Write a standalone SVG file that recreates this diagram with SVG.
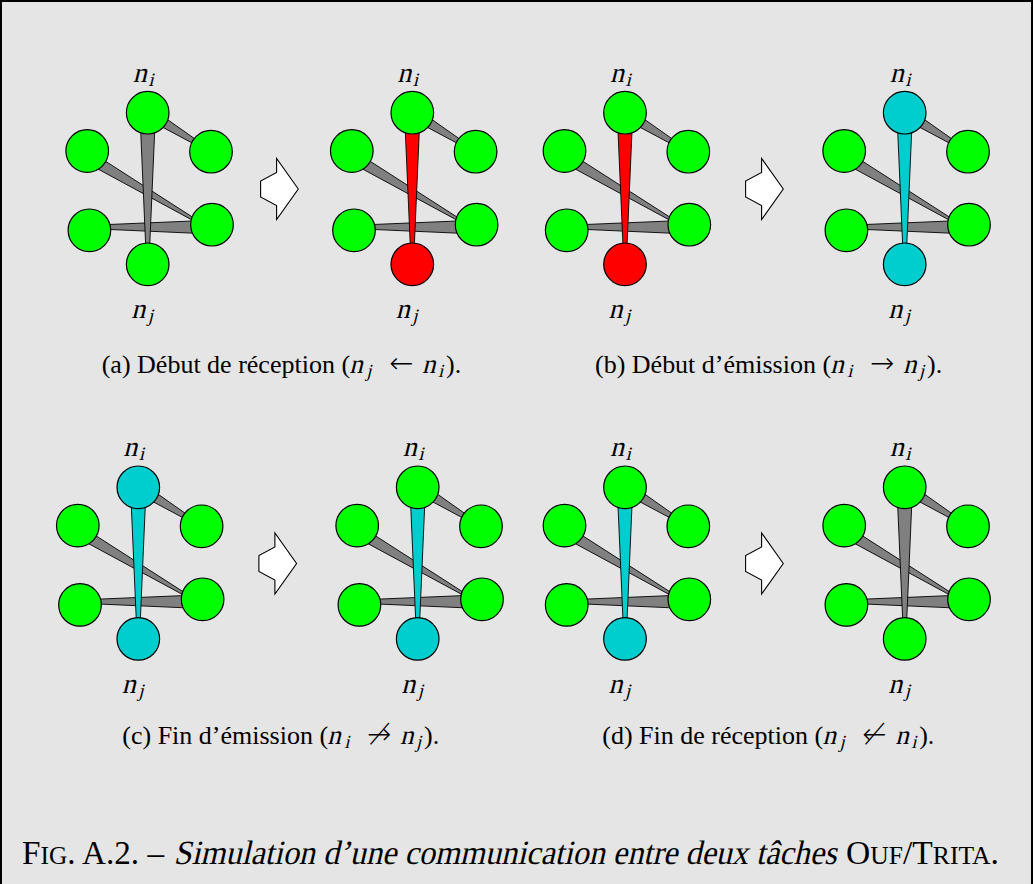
<svg xmlns="http://www.w3.org/2000/svg" width="1033" height="884" viewBox="0 0 1033 884">
<style>
.bg{fill:#e5e5e5;stroke:#000;stroke-width:2}
.n{stroke:#000;stroke-width:1.2}
.g{fill:#00ff00}.r{fill:#ff0000}.c{fill:#00cece}
.e{stroke:#000;stroke-width:0.9;stroke-linejoin:round}
.eg{fill:#808080}.er{fill:#ff0000}.ec{fill:#00cece}
.lab{font-family:"Liberation Serif",serif;font-size:28px;fill:#000}
.ls{font-family:"Liberation Serif",serif;font-size:19px;fill:#000}
.cap{font-family:"Liberation Serif",serif;font-size:26px;fill:#000}
.mi{font-family:"Liberation Serif",serif;font-size:27px;fill:#000}
.ms{font-family:"Liberation Serif",serif;font-size:18.5px;fill:#000}
.ar{font-family:"DejaVu Sans",sans-serif;font-size:29px;font-weight:200;fill:#000}
.big{font-family:"Liberation Serif",serif;font-size:34px;fill:#000}
.sc{font-size:26px}
.arr{fill:#fff;stroke:#000;stroke-width:1.1;stroke-linejoin:miter}
</style>
<defs>
<polygon id="e1" points="-3.04,4.94 62.67,40.02 63.93,37.98 3.04,-4.94"/>
<polygon id="e2" points="-63.5,48.88 64.05,117.93 64.55,117.07 -57.5,38.72"/>
<polygon id="e3" points="-58.3,112.6 64.3,107.5 64.3,121.3 -58.3,115.9"/>
<polygon id="e4" points="-7.8,0 -1.2,151.6 1.2,151.6 7.8,0"/>
<polygon id="arrow" points="0,0 -21.7,-30.5 -21.7,-16.5 -37.7,-8 -37.7,8 -21.7,16.5 -21.7,30.5"/>
</defs>
<rect class="bg" x="1" y="1" width="1031" height="900"/>

<!-- Panel a-left -->
<g id="panel-a1" transform="translate(147.7,112.7)">
<g id="a1-edges" class="e"><use href="#e1" class="eg"/><use href="#e2" class="eg"/><use href="#e3" class="eg"/><use href="#e4" class="eg"/></g>
<g id="a1-ni"><circle class="n g" cx="0" cy="0" r="21.3"/><text class="lab" transform="translate(-15,-31) skewX(-14)">n</text><text class="ls" transform="translate(0.5,-27) skewX(-14)">i</text></g>
<g id="a1-lu"><circle class="n g" cx="-60.5" cy="38.3" r="21.3"/></g>
<g id="a1-tr"><circle class="n g" cx="63.3" cy="39" r="21.3"/></g>
<g id="a1-ll"><circle class="n g" cx="-58.3" cy="117.6" r="21.3"/></g>
<g id="a1-rl"><circle class="n g" cx="64.3" cy="112" r="21.3"/></g>
<g id="a1-nj"><circle class="n g" cx="0" cy="151.6" r="21.3"/><text class="lab" transform="translate(-16.5,205.6) skewX(-14)">n</text><text class="ls" transform="translate(0,209.6) skewX(-14)">j</text></g>
</g>
<use id="arrow-a" href="#arrow" class="arr" x="298.3" y="189"/>

<!-- Panel a-right -->
<g id="panel-a2" transform="translate(412.3,112.7)">
<g id="a2-edges" class="e"><use href="#e1" class="eg"/><use href="#e2" class="eg"/><use href="#e3" class="eg"/><use href="#e4" class="er"/></g>
<g id="a2-ni"><circle class="n g" cx="0" cy="0" r="21.3"/><text class="lab" transform="translate(-15,-31) skewX(-14)">n</text><text class="ls" transform="translate(0.5,-27) skewX(-14)">i</text></g>
<g id="a2-lu"><circle class="n g" cx="-60.5" cy="38.3" r="21.3"/></g>
<g id="a2-tr"><circle class="n g" cx="63.3" cy="39" r="21.3"/></g>
<g id="a2-ll"><circle class="n g" cx="-58.3" cy="117.6" r="21.3"/></g>
<g id="a2-rl"><circle class="n g" cx="64.3" cy="112" r="21.3"/></g>
<g id="a2-nj"><circle class="n r" cx="0" cy="151.6" r="21.3"/><text class="lab" transform="translate(-16.5,205.6) skewX(-14)">n</text><text class="ls" transform="translate(0,209.6) skewX(-14)">j</text></g>
</g>

<!-- Panel b-left -->
<g id="panel-b1" transform="translate(625,112.7)">
<g id="b1-edges" class="e"><use href="#e1" class="eg"/><use href="#e2" class="eg"/><use href="#e3" class="eg"/><use href="#e4" class="er"/></g>
<g id="b1-ni"><circle class="n g" cx="0" cy="0" r="21.3"/><text class="lab" transform="translate(-15,-31) skewX(-14)">n</text><text class="ls" transform="translate(0.5,-27) skewX(-14)">i</text></g>
<g id="b1-lu"><circle class="n g" cx="-60.5" cy="38.3" r="21.3"/></g>
<g id="b1-tr"><circle class="n g" cx="63.3" cy="39" r="21.3"/></g>
<g id="b1-ll"><circle class="n g" cx="-58.3" cy="117.6" r="21.3"/></g>
<g id="b1-rl"><circle class="n g" cx="64.3" cy="112" r="21.3"/></g>
<g id="b1-nj"><circle class="n r" cx="0" cy="151.6" r="21.3"/><text class="lab" transform="translate(-16.5,205.6) skewX(-14)">n</text><text class="ls" transform="translate(0,209.6) skewX(-14)">j</text></g>
</g>
<use id="arrow-b" href="#arrow" class="arr" x="783.3" y="189"/>

<!-- Panel b-right -->
<g id="panel-b2" transform="translate(904.7,112.7)">
<g id="b2-edges" class="e"><use href="#e1" class="eg"/><use href="#e2" class="eg"/><use href="#e3" class="eg"/><use href="#e4" class="ec"/></g>
<g id="b2-ni"><circle class="n c" cx="0" cy="0" r="21.3"/><text class="lab" transform="translate(-15,-31) skewX(-14)">n</text><text class="ls" transform="translate(0.5,-27) skewX(-14)">i</text></g>
<g id="b2-lu"><circle class="n g" cx="-60.5" cy="38.3" r="21.3"/></g>
<g id="b2-tr"><circle class="n g" cx="63.3" cy="39" r="21.3"/></g>
<g id="b2-ll"><circle class="n g" cx="-58.3" cy="117.6" r="21.3"/></g>
<g id="b2-rl"><circle class="n g" cx="64.3" cy="112" r="21.3"/></g>
<g id="b2-nj"><circle class="n c" cx="0" cy="151.6" r="21.3"/><text class="lab" transform="translate(-16.5,205.6) skewX(-14)">n</text><text class="ls" transform="translate(0,209.6) skewX(-14)">j</text></g>
</g>

<!-- Panel c-left -->
<g id="panel-c1" transform="translate(138.3,487.3)">
<g id="c1-edges" class="e"><use href="#e1" class="eg"/><use href="#e2" class="eg"/><use href="#e3" class="eg"/><use href="#e4" class="ec"/></g>
<g id="c1-ni"><circle class="n c" cx="0" cy="0" r="21.3"/><text class="lab" transform="translate(-15,-31) skewX(-14)">n</text><text class="ls" transform="translate(0.5,-27) skewX(-14)">i</text></g>
<g id="c1-lu"><circle class="n g" cx="-60.5" cy="38.3" r="21.3"/></g>
<g id="c1-tr"><circle class="n g" cx="63.3" cy="39" r="21.3"/></g>
<g id="c1-ll"><circle class="n g" cx="-58.3" cy="117.6" r="21.3"/></g>
<g id="c1-rl"><circle class="n g" cx="64.3" cy="112" r="21.3"/></g>
<g id="c1-nj"><circle class="n c" cx="0" cy="151.6" r="21.3"/><text class="lab" transform="translate(-16.5,205.6) skewX(-14)">n</text><text class="ls" transform="translate(0,209.6) skewX(-14)">j</text></g>
</g>
<use id="arrow-c" href="#arrow" class="arr" x="296.6" y="563.5"/>

<!-- Panel c-right -->
<g id="panel-c2" transform="translate(417.7,487.3)">
<g id="c2-edges" class="e"><use href="#e1" class="eg"/><use href="#e2" class="eg"/><use href="#e3" class="eg"/><use href="#e4" class="ec"/></g>
<g id="c2-ni"><circle class="n g" cx="0" cy="0" r="21.3"/><text class="lab" transform="translate(-15,-31) skewX(-14)">n</text><text class="ls" transform="translate(0.5,-27) skewX(-14)">i</text></g>
<g id="c2-lu"><circle class="n g" cx="-60.5" cy="38.3" r="21.3"/></g>
<g id="c2-tr"><circle class="n g" cx="63.3" cy="39" r="21.3"/></g>
<g id="c2-ll"><circle class="n g" cx="-58.3" cy="117.6" r="21.3"/></g>
<g id="c2-rl"><circle class="n g" cx="64.3" cy="112" r="21.3"/></g>
<g id="c2-nj"><circle class="n c" cx="0" cy="151.6" r="21.3"/><text class="lab" transform="translate(-16.5,205.6) skewX(-14)">n</text><text class="ls" transform="translate(0,209.6) skewX(-14)">j</text></g>
</g>

<!-- Panel d-left -->
<g id="panel-d1" transform="translate(625,487.3)">
<g id="d1-edges" class="e"><use href="#e1" class="eg"/><use href="#e2" class="eg"/><use href="#e3" class="eg"/><use href="#e4" class="ec"/></g>
<g id="d1-ni"><circle class="n g" cx="0" cy="0" r="21.3"/><text class="lab" transform="translate(-15,-31) skewX(-14)">n</text><text class="ls" transform="translate(0.5,-27) skewX(-14)">i</text></g>
<g id="d1-lu"><circle class="n g" cx="-60.5" cy="38.3" r="21.3"/></g>
<g id="d1-tr"><circle class="n g" cx="63.3" cy="39" r="21.3"/></g>
<g id="d1-ll"><circle class="n g" cx="-58.3" cy="117.6" r="21.3"/></g>
<g id="d1-rl"><circle class="n g" cx="64.3" cy="112" r="21.3"/></g>
<g id="d1-nj"><circle class="n c" cx="0" cy="151.6" r="21.3"/><text class="lab" transform="translate(-16.5,205.6) skewX(-14)">n</text><text class="ls" transform="translate(0,209.6) skewX(-14)">j</text></g>
</g>
<use id="arrow-d" href="#arrow" class="arr" x="783.3" y="563.5"/>

<!-- Panel d-right -->
<g id="panel-d2" transform="translate(904.7,487.3)">
<g id="d2-edges" class="e"><use href="#e1" class="eg"/><use href="#e2" class="eg"/><use href="#e3" class="eg"/><use href="#e4" class="eg"/></g>
<g id="d2-ni"><circle class="n g" cx="0" cy="0" r="21.3"/><text class="lab" transform="translate(-15,-31) skewX(-14)">n</text><text class="ls" transform="translate(0.5,-27) skewX(-14)">i</text></g>
<g id="d2-lu"><circle class="n g" cx="-60.5" cy="38.3" r="21.3"/></g>
<g id="d2-tr"><circle class="n g" cx="63.3" cy="39" r="21.3"/></g>
<g id="d2-ll"><circle class="n g" cx="-58.3" cy="117.6" r="21.3"/></g>
<g id="d2-rl"><circle class="n g" cx="64.3" cy="112" r="21.3"/></g>
<g id="d2-nj"><circle class="n g" cx="0" cy="151.6" r="21.3"/><text class="lab" transform="translate(-16.5,205.6) skewX(-14)">n</text><text class="ls" transform="translate(0,209.6) skewX(-14)">j</text></g>
</g>

<!-- Sub-captions -->
<g id="caption-a">
<text class="cap" x="101.7" y="372.5" textLength="248.4" lengthAdjust="spacingAndGlyphs">(a) Début de réception (</text>
<text class="mi" transform="translate(349.3,372.5) skewX(-14)">n</text>
<text class="ms" transform="translate(366.3,376.5) skewX(-14)">j</text>
<text class="ar" x="401.1" y="372.5" text-anchor="middle">←</text>
<text class="mi" transform="translate(422.1,372.5) skewX(-14)">n</text>
<text class="ms" transform="translate(438.1,376.5) skewX(-14)">i</text>
<text class="cap" x="446.1" y="372.5">).</text>
</g>
<g id="caption-b">
<text class="cap" x="595" y="372.5" textLength="236.1" lengthAdjust="spacingAndGlyphs">(b) Début d’émission (</text>
<text class="mi" transform="translate(830.3,372.5) skewX(-14)">n</text>
<text class="ms" transform="translate(847.3,376.5) skewX(-14)">i</text>
<text class="ar" x="882.1" y="372.5" text-anchor="middle">→</text>
<text class="mi" transform="translate(903.1,372.5) skewX(-14)">n</text>
<text class="ms" transform="translate(919.1,376.5) skewX(-14)">j</text>
<text class="cap" x="927.1" y="372.5">).</text>
</g>
<g id="caption-c">
<text class="cap" x="122.3" y="744" textLength="205.8" lengthAdjust="spacingAndGlyphs">(c) Fin d’émission (</text>
<text class="mi" transform="translate(327.3,744) skewX(-14)">n</text>
<text class="ms" transform="translate(344.3,748) skewX(-14)">i</text>
<text class="ar" x="379.1" y="744" text-anchor="middle">↛</text>
<text class="mi" transform="translate(400.1,744) skewX(-14)">n</text>
<text class="ms" transform="translate(416.1,748) skewX(-14)">j</text>
<text class="cap" x="424.1" y="744">).</text>
</g>
<g id="caption-d">
<text class="cap" x="602.3" y="744" textLength="220.9" lengthAdjust="spacingAndGlyphs">(d) Fin de réception (</text>
<text class="mi" transform="translate(822.4,744) skewX(-14)">n</text>
<text class="ms" transform="translate(839.4,748) skewX(-14)">j</text>
<text class="ar" x="874.2" y="744" text-anchor="middle">↚</text>
<text class="mi" transform="translate(895.2,744) skewX(-14)">n</text>
<text class="ms" transform="translate(911.2,748) skewX(-14)">i</text>
<text class="cap" x="919.2" y="744">).</text>
</g>

<!-- Figure caption -->
<g id="figure-caption">
<text class="big" x="22" y="864" textLength="142" lengthAdjust="spacingAndGlyphs">F<tspan class="sc">IG</tspan>. A.2. –</text>
<text class="big" transform="translate(173.5,864) skewX(-13)" textLength="663" lengthAdjust="spacingAndGlyphs">Simulation d’une communication entre deux tâches</text>
<text class="big" x="846" y="864" textLength="153" lengthAdjust="spacingAndGlyphs">O<tspan class="sc">UF</tspan>/T<tspan class="sc">RITA</tspan>.</text>
</g>
</svg>
